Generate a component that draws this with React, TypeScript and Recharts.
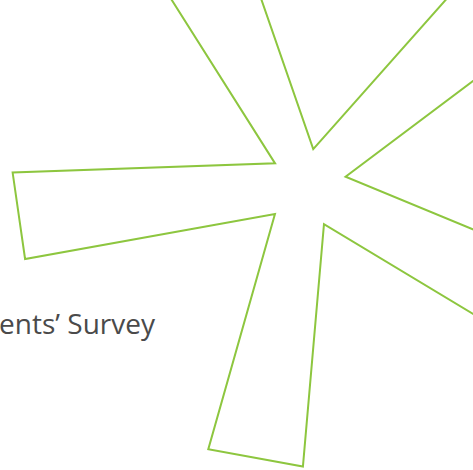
import { RadarChart, Radar, PolarAngleAxis, PolarRadiusAxis } from 'recharts'

// the picture is a crop: drop the default body margin so the chart starts at 0,0
document.body.style.margin = '0'

// polar readings of the star outline: angle clockwise from top (deg), radius (0-100)
const angles = [9.3, 37.3, 55.9, 73.1, 107.3, 125.4, 154.3, 180.8, 200.7, 231.3, 255.95, 273.1, 308.4, 325, 344.7]
const values = [13.3, 95, 95, 13.5, 95, 95, 13.2, 92.7, 92.9, 13.6, 96.8, 98.2, 13.5, 95, 95]

const title = 'ents\u2019 Survey'

const data = angles.map((a, i) => ({ angle: a, value: values[i] }))

export default function App() {
  return (
    <div
      style={{
        width: 473,
        height: 470,
        position: 'relative',
        overflow: 'hidden',
        background: '#fff',
      }}
    >
      <RadarChart
        width={473}
        height={470}
        data={data}
        cx={306.8}
        cy={188.5}
        outerRadius={300}
        margin={{ top: 0, right: 0, bottom: 0, left: 0 }}
      >
        <PolarAngleAxis
          dataKey="angle"
          type="number"
          domain={[0, 360]}
          tick={false}
          axisLine={false}
          tickLine={false}
        />
        <PolarRadiusAxis domain={[0, 100]} tick={false} axisLine={false} tickLine={false} />
        <Radar
          dataKey="value"
          stroke="#8dc63f"
          strokeWidth={2}
          fill="none"
          fillOpacity={0}
          dot={false}
          isAnimationActive={false}
        />
      </RadarChart>
      <div
        style={{
          position: 'absolute',
          right: 318,
          top: 304,
          fontFamily: '"Open Sans", sans-serif',
          fontSize: 28,
          lineHeight: '38px',
          color: '#4a4a4a',
          whiteSpace: 'nowrap',
        }}
      >
        {title}
      </div>
    </div>
  )
}
